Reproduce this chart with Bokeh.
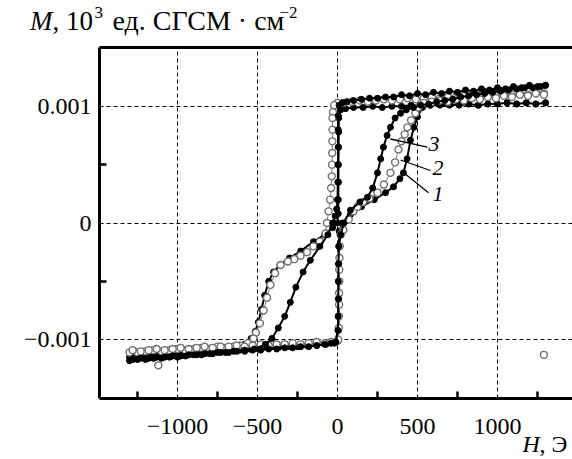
from bokeh.plotting import figure
from bokeh.models import FixedTicker, Label, Range1d, CustomJSTickFormatter, LinearAxis, Grid
from bokeh.embed import file_html
from bokeh.resources import INLINE

# ---------------- data ----------------
x_ticks = [-1000, -500, 0, 500, 1000]
x_minor = [-1250, -750, -250, 250, 750, 1250]
y_ticks = [-0.001, 0.0, 0.001]
y_minor = [-0.0005, 0.0005]

# series 1: outer loop, black dots with line
H1 = [1300, 1240, 1180, 1120, 1060, 1000, 940, 880, 820, 760, 700, 640, 580, 520, 460, 400, 340, 280, 220, 160, 100, 50, 20,
      8, 7, 7, 6, 6, 5, 5,
      0, -30, -80, -150, -230, -300, -360, -400, -430, -455, -475, -495, -515, -540, -580, -640,
      -700, -760, -820, -880, -940, -1000, -1060, -1120, -1180, -1240, -1300,
      -1270, -1210, -1150, -1090, -1030, -970, -910, -850, -790, -730, -670, -610, -550, -490, -430, -370, -310, -250, -190, -130, -70, -20,
      6, 7, 7, 8, 8, 9, 10,
      30, 80, 150, 230, 300, 350, 390, 412, 435, 456, 478, 500, 531, 580, 640,
      700, 760, 820, 880, 940, 1000, 1060, 1120, 1180, 1240, 1300]
M1 = [0.00103, 0.00102, 0.00103, 0.00102, 0.00103, 0.00102, 0.00102, 0.00101, 0.00102, 0.00101, 0.00102, 0.00101, 0.00101, 0.00100, 0.00101, 0.00100, 0.00100, 0.00099, 0.00100, 0.00099, 0.00099, 0.00098, 0.00097,
      0.0009, 0.00078, 0.00065, 0.0005, 0.00035, 0.0002, 0.00008,
      0.0, -0.00004, -0.0001, -0.00016, -0.00024, -0.0003, -0.00036, -0.00042, -0.0005, -0.00062, -0.00074, -0.00085, -0.00093, -0.00099, -0.00104, -0.00107,
      -0.00108, -0.00109, -0.0011, -0.0011, -0.00111, -0.00112, -0.00112, -0.00113, -0.00113, -0.00114, -0.00115,
      -0.00115, -0.00114, -0.00114, -0.00113, -0.00113, -0.00112, -0.00112, -0.00111, -0.0011, -0.0011, -0.00109, -0.00109, -0.00108, -0.00108, -0.00107, -0.00107, -0.00106, -0.00106, -0.00105, -0.00105, -0.00104, -0.00103,
      -0.00092, -0.0008, -0.00065, -0.0005, -0.00035, -0.0002, -0.00007,
      0.0, 0.00007, 0.00014, 0.0002, 0.00026, 0.00031, 0.00038, 0.00043, 0.00055, 0.00071, 0.00082, 0.00091, 0.00099, 0.00101, 0.00102,
      0.00101, 0.00102, 0.00102, 0.00101, 0.00102, 0.00102, 0.00103, 0.00102, 0.00103, 0.00102, 0.00103]

# series 2: open grey circles
H2 = [1290, 1240, 1190, 1140, 1090, 1040, 990, 940, 890, 840, 790, 740, 690, 640, 590, 540, 490, 440, 390, 340, 290, 240, 190, 140, 90, 40, 0, -20,
      -28, -31, -31, -32, -33, -34, -36, -40, -46, -56, -66, -75,
      -110, -150, -190, -231, -270, -310, -356, -390, -419, -440, -462, -485, -510, -525, -560, -606,
      -650, -700, -750, -800, -850, -900, -950, -1000, -1050, -1100, -1150, -1200, -1250, -1300,
      -1280, -1230, -1180, -1130, -1080, -1030, -980, -930, -880, -830, -780, -730, -680, -630, -580, -530, -480, -430, -380, -330, -280, -230, -180, -130, -80, -40, 0,
      5, 8, 9, 10, 10, 11, 11, 12, 14, 20, 37,
      70, 100, 125, 160, 200, 250, 290, 331, 360, 381, 400, 420, 437, 460, 487, 506, 540,
      590, 640, 690, 740, 790, 840, 890, 940, 990, 1040, 1090, 1140, 1190, 1240, 1290]
M2 = [0.00111, 0.00112, 0.0011, 0.00111, 0.0011, 0.00111, 0.00109, 0.0011, 0.00109, 0.00108, 0.00109, 0.00108, 0.00108, 0.00107, 0.00108, 0.00107, 0.00106, 0.00107, 0.00106, 0.00105, 0.00106, 0.00105, 0.00104, 0.00105, 0.00104, 0.00103, 0.00103, 0.00101,
      0.00095, 0.0009, 0.0008, 0.0007, 0.0006, 0.0005, 0.0004, 0.0003, 0.0002, 0.0001, 0.0, -0.00009,
      -0.00016, -0.0002, -0.00025, -0.00028, -0.00031, -0.00033, -0.00036, -0.00043, -0.00053, -0.00064, -0.00075, -0.00086, -0.00094, -0.00099, -0.00103, -0.00105,
      -0.00106, -0.00107, -0.00106, -0.00108, -0.00107, -0.00108, -0.00109, -0.00108, -0.00109, -0.0011, -0.00109, -0.0011, -0.00111, -0.00111,
      -0.00109, -0.0011, -0.00109, -0.00108, -0.00109, -0.00108, -0.00107, -0.00108, -0.00107, -0.00106, -0.00107, -0.00106, -0.00106, -0.00105, -0.00106, -0.00105, -0.00104, -0.00105, -0.00104, -0.00104, -0.00103, -0.00104, -0.00103, -0.00102, -0.00103, -0.00102, -0.00101,
      -0.001, -0.0009, -0.0008, -0.0007, -0.0006, -0.0005, -0.0004, -0.0003, -0.0002, -0.0001, -0.00006,
      0.00003, 0.0001, 0.00014, 0.00018, 0.00021, 0.00026, 0.00033, 0.00043, 0.00052, 0.00063, 0.0007, 0.00076, 0.00082, 0.00088, 0.00094, 0.00099, 0.00103,
      0.00104, 0.00105, 0.00104, 0.00106, 0.00105, 0.00107, 0.00106, 0.00108, 0.00107, 0.00109, 0.00108, 0.0011, 0.00109, 0.00111, 0.0011]
H2_out = [1290, -1120]
M2_out = [-0.00113, -0.00122]

# series 3: inner loop, black dots
H3 = [1300, 1250, 1200, 1150, 1100, 1050, 1000, 950, 900, 850, 800, 750, 700, 650, 600, 550, 500, 450, 400, 350, 300, 250, 200, 150, 100, 60, 30, 10,
      5, 4, 4, 3, 2, 0, -5, -15, -30, -60, -110, -170, -215, -260, -295, -330, -370, -410, -450, -520,
      -580, -650, -700, -750, -800, -850, -900, -950, -1000, -1050, -1100, -1150, -1200, -1250, -1300,
      -1280, -1230, -1180, -1130, -1080, -1030, -980, -930, -880, -830, -780, -730, -680, -630, -580, -530, -480, -430, -380, -330, -280, -230, -180, -130, -80, -40, -10,
      3, 4, 5, 5, 6, 8, 20, 40, 81, 140, 187, 220, 250, 270, 287, 310, 331, 360, 394, 430, 475,
      520, 570, 620, 670, 720, 770, 820, 870, 920, 970, 1020, 1070, 1120, 1170, 1220, 1270, 1300]
M3 = [0.00118, 0.00117, 0.00118, 0.00116, 0.00117, 0.00115, 0.00116, 0.00114, 0.00115, 0.00113, 0.00114, 0.00112, 0.00113, 0.00111, 0.00112, 0.0011, 0.00111, 0.00109, 0.0011, 0.00108, 0.00108, 0.00107, 0.00107, 0.00106, 0.00105, 0.00104, 0.00103, 0.00101,
      0.00092, 0.0008, 0.00065, 0.0005, 0.00035, 0.0002, 0.00012, 0.00006, 0.0, -0.0001, -0.0002, -0.00032, -0.00042, -0.00055, -0.00068, -0.0008, -0.0009, -0.00099, -0.00104, -0.00108,
      -0.00109, -0.0011, -0.00111, -0.00111, -0.00112, -0.00113, -0.00113, -0.00114, -0.00115, -0.00115, -0.00116, -0.00116, -0.00117, -0.00117, -0.00118,
      -0.00117, -0.00116, -0.00116, -0.00115, -0.00115, -0.00114, -0.00114, -0.00113, -0.00113, -0.00112, -0.00112, -0.00111, -0.00111, -0.0011, -0.0011, -0.00109, -0.00109, -0.00108, -0.00108, -0.00107, -0.00107, -0.00106, -0.00106, -0.00105, -0.00104, -0.00103, -0.00102,
      -0.00092, -0.0008, -0.00065, -0.0005, -0.00035, -0.0002, -0.0001, 0.0, 0.00011, 0.00018, 0.00022, 0.0003, 0.00043, 0.00055, 0.00065, 0.00075, 0.00082, 0.0009, 0.00094, 0.00097, 0.00099,
      0.00101, 0.00102, 0.00104, 0.00105, 0.00106, 0.00108, 0.00109, 0.0011, 0.00111, 0.00112, 0.00113, 0.00114, 0.00115, 0.00116, 0.00116, 0.00117, 0.00118]

# curve numbers with leader lines
ann_text = ["3", "2", "1"]
ann_x = [569, 594, 594]
lead_x0 = [331, 394, 406]
lead_y0 = [0.00072, 0.00054, 0.00044]
lead_x1 = [562, 581, 569]
lead_y1 = [0.00065, 0.00045, 0.00026]

# ---------------- geometry ----------------
W, HGT = 572, 459
def H_at(px):            # canvas pixel -> field value
    return (px - 337) * 6.25

def M_at(py):            # canvas pixel -> magnetisation value
    return (222.5 - py) / 116667.0

def base_fix(py, fs):    # compensate label baseline placement
    return py - (4 + 0.25 * fs)

BOX_L, BOX_R, BOX_B, BOX_T = H_at(99), 1500, -0.0015, 0.0015
SERIF = "Liberation Serif"

p = figure(width=W, height=HGT, output_backend="svg", toolbar_location=None,
           x_range=Range1d(H_at(0), H_at(W)), y_range=Range1d(M_at(HGT), M_at(0)),
           x_axis_location=None, y_axis_location=None,
           min_border=0, min_border_left=0, min_border_right=0, min_border_top=0, min_border_bottom=0)
p.center = []
p.outline_line_color = None
p.background_fill_color = "white"
p.border_fill_color = "white"

xticker = FixedTicker(ticks=x_ticks, minor_ticks=x_minor)
yticker = FixedTicker(ticks=y_ticks, minor_ticks=y_minor)

def style_axis(ax):
    ax.axis_line_width = 3
    ax.axis_line_color = "black"
    ax.major_tick_in = 0
    ax.major_tick_out = 0
    ax.minor_tick_in = 7
    ax.minor_tick_out = 0
    ax.minor_tick_line_width = 2.5
    ax.minor_tick_line_color = "black"
    ax.major_label_text_font = SERIF
    ax.major_label_text_font_size = "24px"
    ax.major_label_text_color = "black"

xax = LinearAxis(fixed_location=BOX_B, bounds=(BOX_L, BOX_R), ticker=xticker)
style_axis(xax)
xax.major_label_standoff = 21
xax.formatter = CustomJSTickFormatter(code="""
    if (Math.abs(tick) < 1e-9) return "0";
    const s = Math.abs(tick).toFixed(0);
    return tick < 0 ? "\u2212" + s : s;""")
p.add_layout(xax, "below")

yax = LinearAxis(fixed_location=BOX_L, bounds=(BOX_B, BOX_T), ticker=yticker)
style_axis(yax)
yax.major_label_standoff = 8
yax.formatter = CustomJSTickFormatter(code="""
    if (Math.abs(tick) < 1e-12) return "0";
    const s = Math.abs(tick).toFixed(3);
    return tick < 0 ? "\u2212" + s : s;""")
p.add_layout(yax, "left")

tax = LinearAxis(fixed_location=BOX_T, bounds=(BOX_L, BOX_R), ticker=FixedTicker(ticks=[]))
tax.axis_line_width = 3
tax.axis_line_color = "black"
tax.major_tick_in = 0
tax.major_tick_out = 0
tax.minor_tick_in = 0
tax.minor_tick_out = 0
tax.major_label_text_font_size = "0px"
p.add_layout(tax, "above")

# dashed grid confined to the box
grid_style = dict(grid_line_color="black", grid_line_dash="4 3", grid_line_width=1)
if "cross_bounds" in Grid.properties():
    p.add_layout(Grid(dimension=0, ticker=xticker, bounds=(BOX_L, BOX_R), cross_bounds=(BOX_B, BOX_T), **grid_style))
    p.add_layout(Grid(dimension=1, ticker=yticker, bounds=(BOX_B, BOX_T), cross_bounds=(BOX_L, BOX_R), **grid_style))
else:
    p.segment(x0=x_ticks, x1=x_ticks, y0=[BOX_B] * len(x_ticks), y1=[BOX_T] * len(x_ticks),
              line_color="black", line_dash="4 3", line_width=1)
    p.segment(x0=[BOX_L] * len(y_ticks), x1=[BOX_R] * len(y_ticks), y0=y_ticks, y1=y_ticks,
              line_color="black", line_dash="4 3", line_width=1)

# series
p.line(H1, M1, line_color="black", line_width=2)
p.scatter(H1, M1, marker="circle", size=6, fill_color="black", line_color="black")
p.line(H2, M2, line_color="#808080", line_width=1)
p.scatter(H2, M2, marker="circle", size=7, fill_color="white", line_color="#6e6e6e", line_width=1.4)
p.scatter(H2_out, M2_out, marker="circle", size=7, fill_color="white", line_color="#6e6e6e", line_width=1.4)
p.line(H3, M3, line_color="black", line_width=2)
p.scatter(H3, M3, marker="circle", size=6, fill_color="black", line_color="black")

p.segment(x0=lead_x0, y0=lead_y0, x1=lead_x1, y1=lead_y1, line_color="black", line_width=1.3)
ann_base_px = [153, 177, 203]
for t, x, py in zip(ann_text, ann_x, ann_base_px):
    p.add_layout(Label(x=x, y=M_at(base_fix(py, 22)), text=t, text_font=SERIF, text_font_style="italic",
                       text_font_size="22px", text_baseline="alphabetic", text_color="black"))

# axis titles
ybase = 31
pieces = [("M", 29.5, 0, 27, "italic"),
          (", 10", 52, 0, 27, "normal"),
          ("3", 94, 11, 17, "normal"),
          ("ед. СГСМ · см", 112, 0, 28, "normal"),
          ("\u22122", 279, 11, 17, "normal")]
for t, px, up, fs, st in pieces:
    p.add_layout(Label(x=H_at(px), y=M_at(base_fix(ybase - up, fs)), text=t, text_font=SERIF,
                       text_font_style=st, text_font_size=f"{fs}px", text_baseline="alphabetic",
                       text_color="black"))

p.add_layout(Label(x=H_at(522), y=M_at(base_fix(453, 24)), text="H", text_font=SERIF, text_font_style="italic",
                   text_font_size="24px", text_baseline="alphabetic", text_color="black"))
p.add_layout(Label(x=H_at(539), y=M_at(base_fix(453, 24)), text=", Э", text_font=SERIF,
                   text_font_size="24px", text_baseline="alphabetic", text_color="black"))

open("out.html", "w").write(file_html(p, INLINE))
